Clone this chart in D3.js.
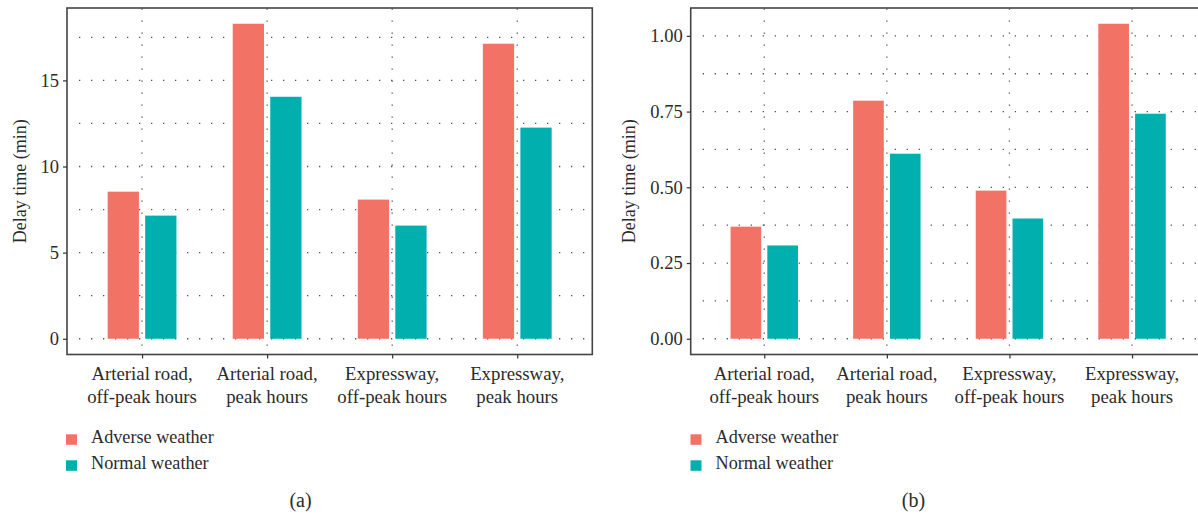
<!DOCTYPE html>
<html><head><meta charset="utf-8">
<script src="https://cdn.jsdelivr.net/npm/d3@7"></script>
<style>
html,body{margin:0;padding:0;background:#fff;}
svg text{font-family:"Liberation Serif","Times New Roman",Times,serif;fill:#2b2b2b;}
</style></head>
<body>
<svg id="chart" width="1198" height="515"></svg>
<script>
// ---- data ----
const categories = [["Arterial road,","off-peak hours"],["Arterial road,","peak hours"],["Expressway,","off-peak hours"],["Expressway,","peak hours"]];
const seriesNames = ["Adverse weather","Normal weather"];
const colors = ["#F27366","#00AFAE"];
const adverseA = [8.54, 18.29, 8.08, 17.13];
const normalA  = [7.15, 14.05, 6.57, 12.26];
const adverseB = [0.370, 0.786, 0.489, 1.040];
const normalB  = [0.308, 0.611, 0.397, 0.743];
const majorA = [0, 5, 10, 15];
const minorA = [2.5, 7.5, 12.5, 17.5];
const tickLabelsA = ["0","5","10","15"];
const majorB = [0, 0.25, 0.5, 0.75, 1.0];
const minorB = [0.125, 0.375, 0.625, 0.875];
const tickLabelsB = ["0.00","0.25","0.50","0.75","1.00"];
const yTitle = "Delay time (min)";

const FONT = '"Liberation Serif","Times New Roman",Times,serif';
const svg = d3.select("#chart");

function panel(cfg){
  const g = svg.append("g").attr("font-family",FONT);
  const {left,right,top,bottom} = cfg;
  const idx = categories.map((d,i)=>i);
  const x = d3.scalePoint().domain(idx).range([left,right]).padding(0.6);
  const step = x.step();
  const ymax = d3.max(cfg.series.flat());
  const pad = ymax*0.05;
  const y = d3.scaleLinear().domain([-pad, ymax+pad]).range([bottom, top]);

  // grid
  const grid = g.append("g").attr("stroke","#555").attr("stroke-width",1.3).attr("stroke-dasharray","1.3,10.7");
  cfg.major.concat(cfg.minor).forEach(v=>{
    grid.append("line").attr("x1",left+12).attr("x2",right).attr("y1",y(v)).attr("y2",y(v));
  });
  idx.forEach(i=>{
    grid.append("line").attr("x1",x(i)).attr("x2",x(i)).attr("y1",top+0.5).attr("y2",bottom);
  });

  // bars
  const bw = step*0.25, gap = step*0.05;
  cfg.series.forEach((vals,s)=>{
    g.append("g").selectAll("rect").data(vals).join("rect")
      .attr("x",(d,i)=> s===0 ? x(i)-gap/2-bw : x(i)+gap/2)
      .attr("width",bw)
      .attr("y",d=>y(d))
      .attr("height",d=>y(0)-y(d))
      .attr("fill",colors[s]);
  });

  // border
  g.append("rect").attr("x",left).attr("y",top).attr("width",right-left).attr("height",bottom-top)
    .attr("fill","none").attr("stroke","#444").attr("stroke-width",1.6);

  // y axis
  const yAxis = d3.axisLeft(y).tickValues(cfg.major).tickFormat((d,i)=>cfg.labels[i]).tickSize(4).tickPadding(4);
  const ya = g.append("g").attr("transform",`translate(${left},0)`).call(yAxis).attr("font-family",FONT);
  ya.select(".domain").remove();
  ya.selectAll(".tick line").attr("stroke","#333").attr("stroke-width",1.2);
  ya.selectAll(".tick text").attr("font-size",18.5).attr("fill","#2b2b2b");

  // x axis
  const xAxis = d3.axisBottom(x).tickFormat(()=>"").tickSize(4);
  const xa = g.append("g").attr("transform",`translate(0,${bottom})`).call(xAxis);
  xa.select(".domain").remove();
  xa.selectAll(".tick line").attr("stroke","#333").attr("stroke-width",1.2);
  idx.forEach(i=>{
    categories[i].forEach((line,k)=>{
      g.append("text").attr("x",x(i)).attr("y",380+k*23).attr("text-anchor","middle")
        .attr("font-size",18.8).text(line);
    });
  });

  // y title
  g.append("text").attr("transform",`translate(${cfg.titleX},${(top+bottom)/2}) rotate(-90)`)
    .attr("text-anchor","middle").attr("font-size",18).text(yTitle);

  // legend
  seriesNames.forEach((n,s)=>{
    g.append("rect").attr("x",cfg.legX).attr("y",434.3+s*26).attr("width",11).attr("height",10.5).attr("fill",colors[s]);
    g.append("text").attr("x",cfg.legX+25).attr("y",442.7+s*26).attr("font-size",18.2).text(n);
  });

  // caption
  g.append("text").attr("x",cfg.capX).attr("y",507).attr("text-anchor","middle").attr("font-size",20).text(cfg.caption);
}

panel({left:67,right:592.3,top:8,bottom:354.5,series:[adverseA,normalA],major:majorA,minor:minorA,labels:tickLabelsA,titleX:26,legX:66,capX:300.5,caption:"(a)"});
panel({left:690.7,right:1205.6,top:8,bottom:354.5,series:[adverseB,normalB],major:majorB,minor:minorB,labels:tickLabelsB,titleX:635,legX:690.5,capX:913.5,caption:"(b)"});
</script>
</body></html>
